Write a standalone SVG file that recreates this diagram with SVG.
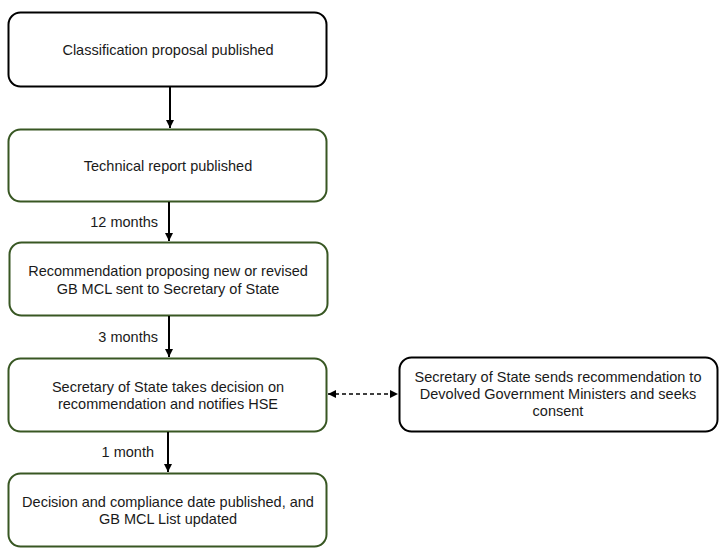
<svg xmlns="http://www.w3.org/2000/svg" width="720" height="557" viewBox="0 0 720 557">
<style>
.box{fill:#fff;stroke-width:2}
.blk{stroke:#000}
.grn{stroke:#385723}
text{font-family:"Liberation Sans",Arial,sans-serif;font-size:14.5px;fill:#1a1a1a;text-anchor:middle}
.lbl{text-anchor:end}
.ln{stroke:#000;stroke-width:2;fill:none}
.dash{stroke:#000;stroke-width:1.6;stroke-dasharray:4 3;fill:none}
</style>
<defs>
<marker id="ah" markerWidth="10" markerHeight="10" refX="9" refY="5" orient="auto" markerUnits="userSpaceOnUse">
<path d="M1,1 L9,5 L1,9 Z" fill="#000"/>
</marker>
<marker id="ahs" markerWidth="10" markerHeight="10" refX="1" refY="5" orient="auto" markerUnits="userSpaceOnUse">
<path d="M9,1 L1,5 L9,9 Z" fill="#000"/>
</marker>
</defs>
<rect width="720" height="557" fill="#fff"/>
<g id="n1"><rect class="box blk" x="8.5" y="12.5" width="318" height="74" rx="12"/><text x="168" y="55">Classification proposal published</text></g>
<g id="n2"><rect class="box grn" x="8.5" y="129.5" width="318" height="72" rx="12"/><text x="168" y="171">Technical report published</text></g>
<g id="n3"><rect class="box grn" x="9.5" y="242.5" width="318" height="73" rx="12"/><text x="168" y="276">Recommendation proposing new or revised</text><text x="168" y="294">GB MCL sent to Secretary of State</text></g>
<g id="n4"><rect class="box grn" x="8.5" y="358.5" width="318" height="73" rx="12"/><text x="168" y="392">Secretary of State takes decision on</text><text x="168" y="409">recommendation and notifies HSE</text></g>
<g id="n5"><rect class="box grn" x="8.5" y="473.5" width="318" height="73" rx="12"/><text x="168" y="507">Decision and compliance date published, and</text><text x="168" y="524">GB MCL List updated</text></g>
<g id="n6"><rect class="box blk" x="399.5" y="357.5" width="318" height="74" rx="12"/><text x="558" y="382">Secretary of State sends recommendation to</text><text x="558" y="399">Devolved Government Ministers and seeks</text><text x="558" y="416">consent</text></g>
<g id="connectors">
<line class="ln" x1="170" y1="87" x2="170" y2="128" marker-end="url(#ah)"/>
<line class="ln" x1="169" y1="202" x2="169" y2="241" marker-end="url(#ah)"/>
<line class="ln" x1="169" y1="316" x2="169" y2="357" marker-end="url(#ah)"/>
<line class="ln" x1="168" y1="432" x2="168" y2="472" marker-end="url(#ah)"/>
<line class="dash" x1="328" y1="394" x2="398" y2="394" marker-start="url(#ahs)" marker-end="url(#ah)"/>
<text class="lbl" x="158" y="227">12 months</text>
<text class="lbl" x="158" y="342">3 months</text>
<text class="lbl" x="154" y="457">1 month</text>
</g>
</svg>
